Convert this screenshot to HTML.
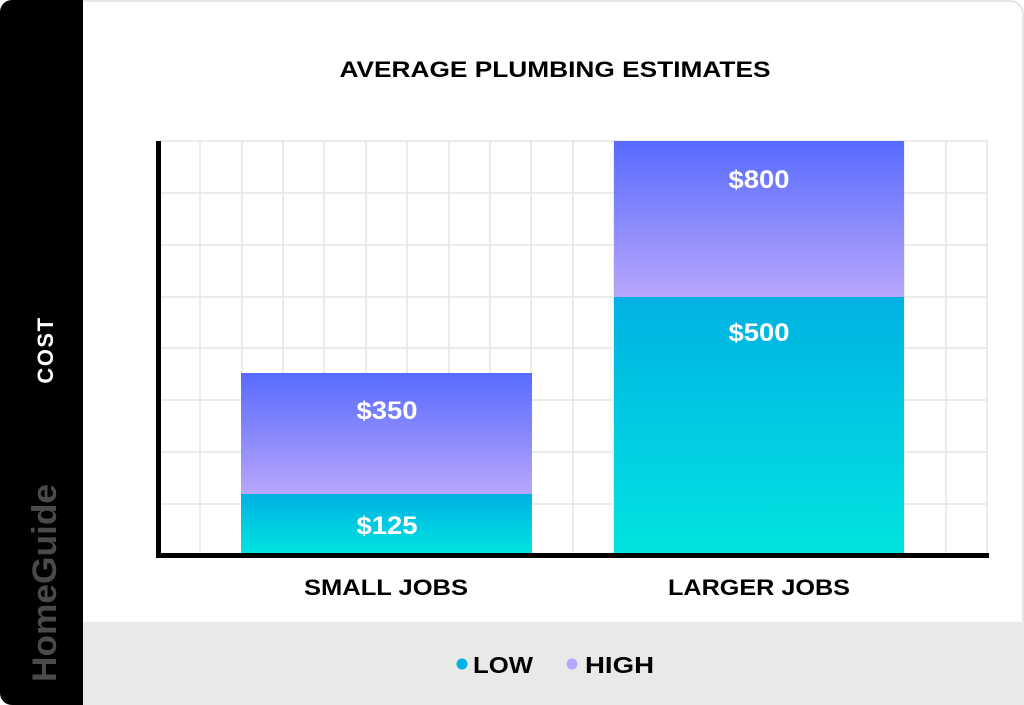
<!DOCTYPE html>
<html><head><style>
html,body{margin:0;padding:0;background:#fff;}
svg{display:block;font-family:"Liberation Sans",sans-serif;font-weight:bold;}
</style></head><body>
<svg width="1024" height="705" viewBox="0 0 1024 705" xmlns="http://www.w3.org/2000/svg">
<defs>
<linearGradient id="hi" x1="0" y1="0" x2="0" y2="1"><stop offset="0" stop-color="#586bff"/><stop offset="1" stop-color="#b8a6fb"/></linearGradient>
<linearGradient id="lo" x1="0" y1="0" x2="0" y2="1"><stop offset="0" stop-color="#00b1e3"/><stop offset="1" stop-color="#00e4e0"/></linearGradient>
</defs>
<rect x="0" y="0" width="1024" height="705" fill="#fff"/>
<path d="M82 1 H1010 A13 13 0 0 1 1023 14 V705" fill="none" stroke="#e6e6e6" stroke-width="2"/>
<rect x="82" y="622" width="942" height="83" fill="#e9e9e9"/>
<path d="M12 0 H83 V705 H12 A12 12 0 0 1 0 693 V12 A12 12 0 0 1 12 0Z" fill="#000"/>
<text x="56" y="682" transform="rotate(-90 56 682)" font-size="34" fill="#4a4a4a" textLength="198" lengthAdjust="spacingAndGlyphs">HomeGuide</text>
<text x="53" y="350" transform="rotate(-90 53 350)" font-size="22" fill="#fff" text-anchor="middle" letter-spacing="1.5">COST</text>
<text x="555" y="77" font-size="22" fill="#000" text-anchor="middle" textLength="431" lengthAdjust="spacingAndGlyphs">AVERAGE PLUMBING ESTIMATES</text>
<g stroke="#e6e6e6" stroke-width="1.5">
<line x1="160" y1="141" x2="988" y2="141"/><line x1="160" y1="193" x2="988" y2="193"/><line x1="160" y1="245" x2="988" y2="245"/><line x1="160" y1="297" x2="988" y2="297"/><line x1="160" y1="348" x2="988" y2="348"/><line x1="160" y1="400" x2="988" y2="400"/><line x1="160" y1="452" x2="988" y2="452"/><line x1="160" y1="504" x2="988" y2="504"/>
<line x1="200" y1="141" x2="200" y2="555"/><line x1="242" y1="141" x2="242" y2="555"/><line x1="283" y1="141" x2="283" y2="555"/><line x1="324" y1="141" x2="324" y2="555"/><line x1="366" y1="141" x2="366" y2="555"/><line x1="407" y1="141" x2="407" y2="555"/><line x1="449" y1="141" x2="449" y2="555"/><line x1="490" y1="141" x2="490" y2="555"/><line x1="531" y1="141" x2="531" y2="555"/><line x1="573" y1="141" x2="573" y2="555"/><line x1="614" y1="141" x2="614" y2="555"/><line x1="655" y1="141" x2="655" y2="555"/><line x1="697" y1="141" x2="697" y2="555"/><line x1="738" y1="141" x2="738" y2="555"/><line x1="780" y1="141" x2="780" y2="555"/><line x1="821" y1="141" x2="821" y2="555"/><line x1="862" y1="141" x2="862" y2="555"/><line x1="904" y1="141" x2="904" y2="555"/><line x1="946" y1="141" x2="946" y2="555"/><line x1="987" y1="141" x2="987" y2="555"/>
</g>
<rect x="241" y="373" width="291" height="121" fill="url(#hi)"/>
<rect x="241" y="494" width="291" height="60" fill="url(#lo)"/>
<rect x="614" y="141" width="290" height="156" fill="url(#hi)"/>
<rect x="614" y="297" width="290" height="257" fill="url(#lo)"/>
<rect x="156" y="141" width="5" height="417" fill="#000"/>
<rect x="156" y="553" width="833" height="5" fill="#000"/>
<g fill="#fff" font-size="25" text-anchor="middle">
<text x="387" y="419" textLength="61" lengthAdjust="spacingAndGlyphs">$350</text><text x="387" y="534" textLength="61" lengthAdjust="spacingAndGlyphs">$125</text>
<text x="759" y="188" textLength="61" lengthAdjust="spacingAndGlyphs">$800</text><text x="759" y="341" textLength="61" lengthAdjust="spacingAndGlyphs">$500</text>
</g>
<g font-size="22" text-anchor="middle" fill="#000">
<text x="386" y="595" textLength="164" lengthAdjust="spacingAndGlyphs">SMALL JOBS</text><text x="759" y="595" textLength="182" lengthAdjust="spacingAndGlyphs">LARGER JOBS</text>
</g>
<circle cx="462" cy="664" r="5.5" fill="#00b1e3"/>
<text x="473" y="673" font-size="23" textLength="60" lengthAdjust="spacingAndGlyphs">LOW</text>
<circle cx="572" cy="664" r="5.5" fill="#b8a6fb"/>
<text x="585" y="673" font-size="23" textLength="69" lengthAdjust="spacingAndGlyphs">HIGH</text>
</svg>
</body></html>
